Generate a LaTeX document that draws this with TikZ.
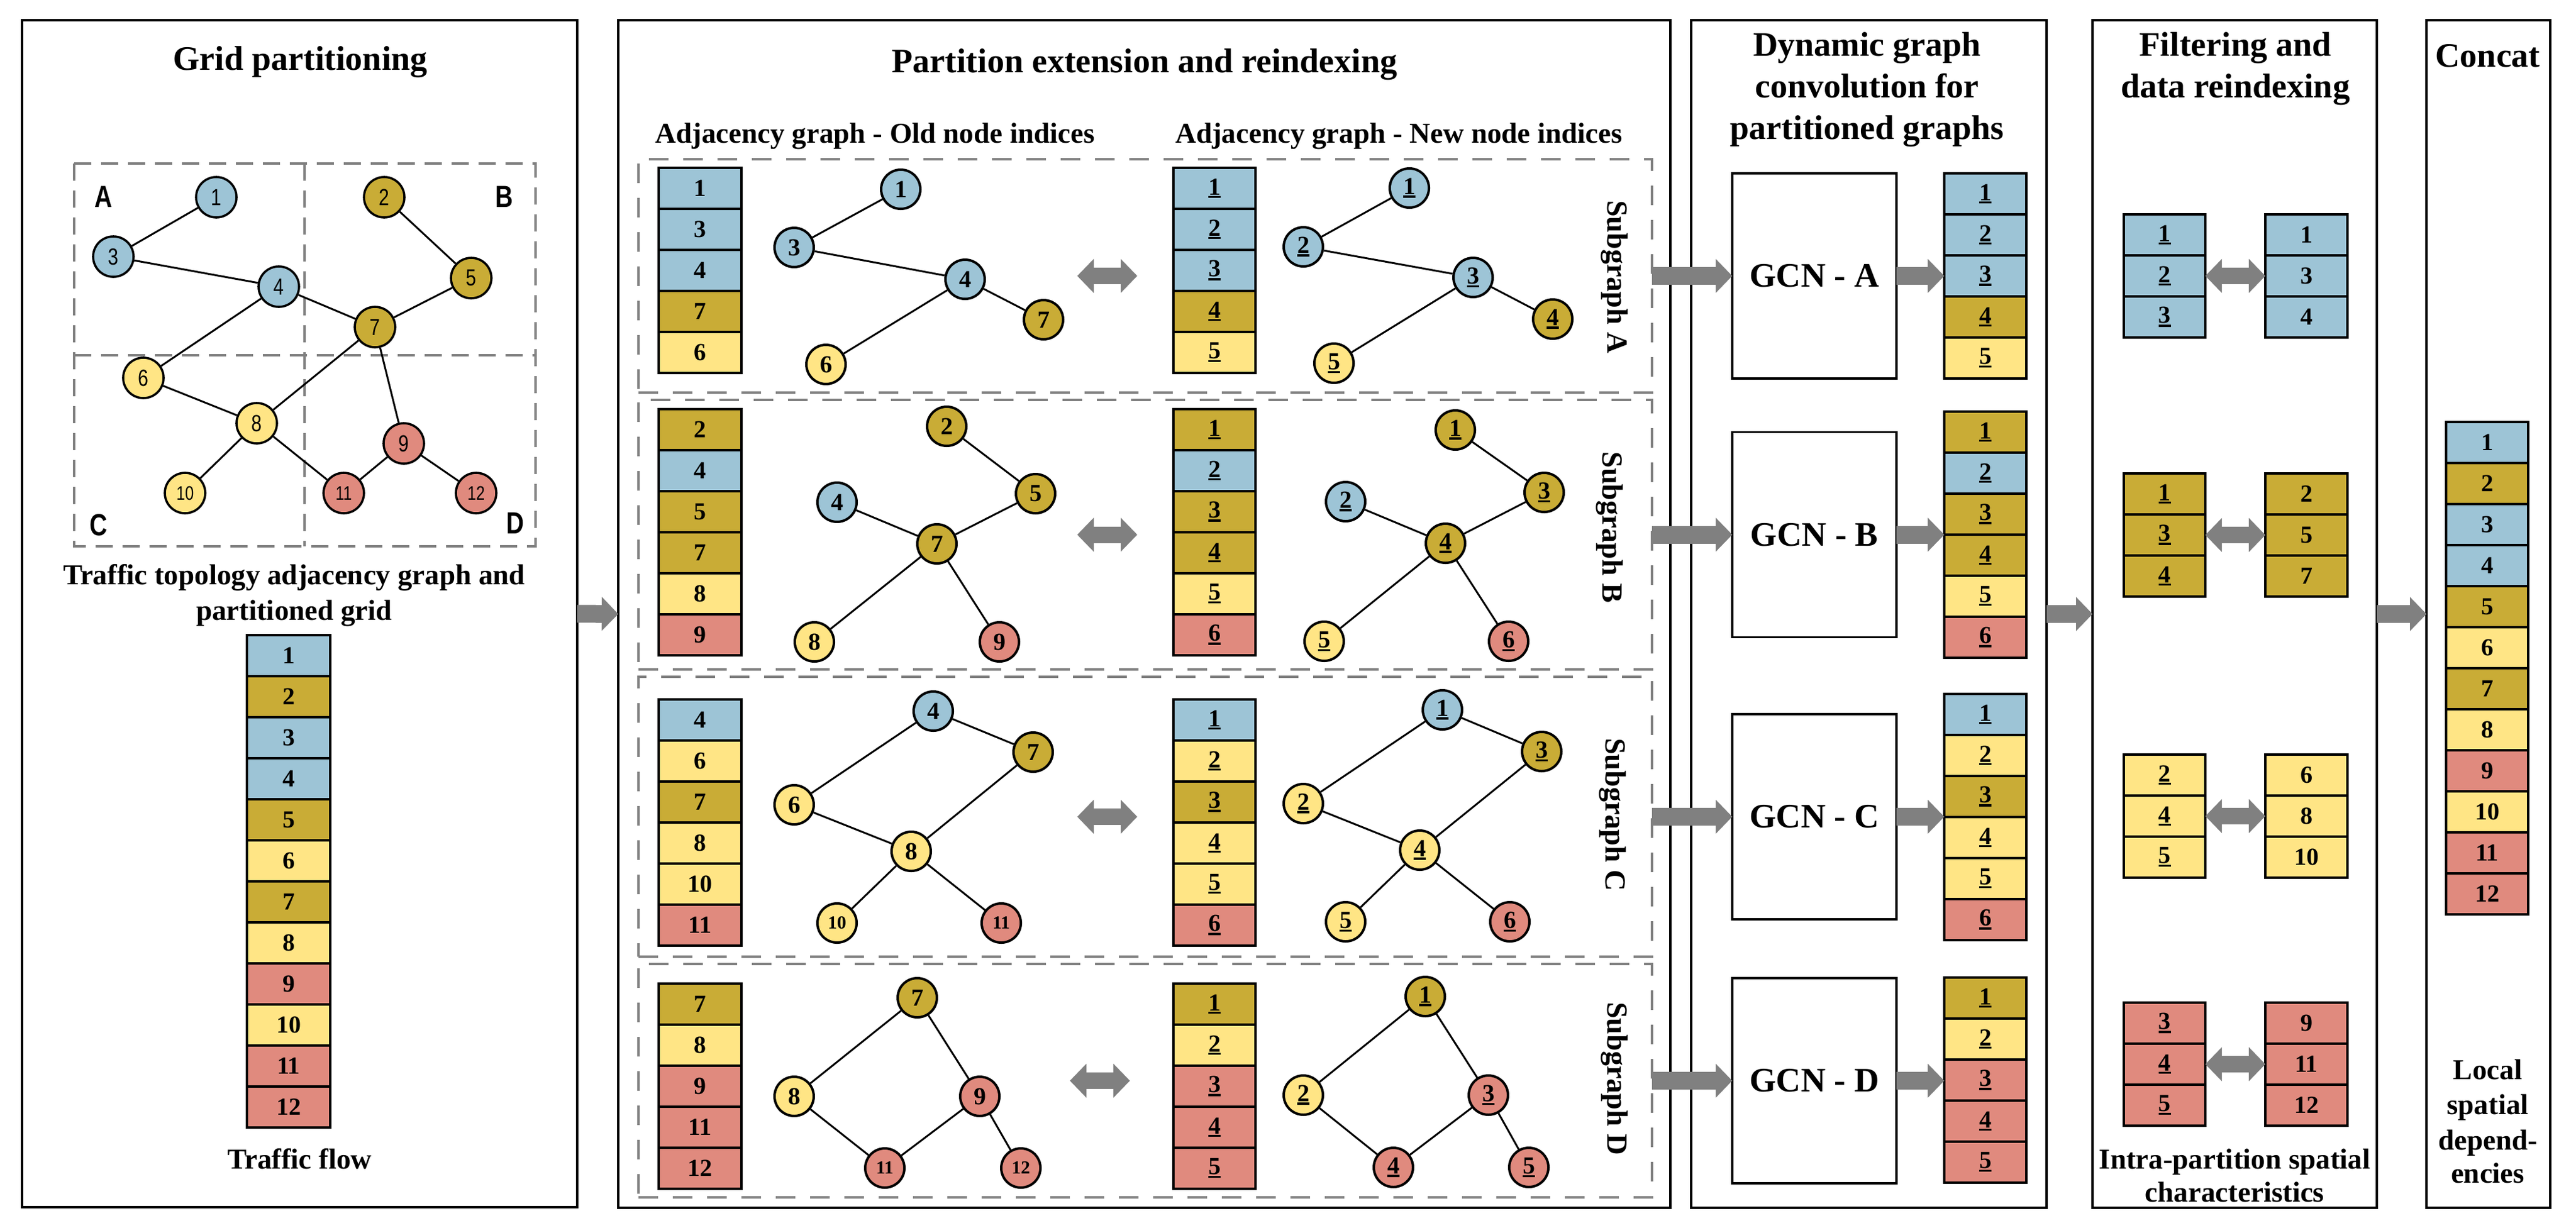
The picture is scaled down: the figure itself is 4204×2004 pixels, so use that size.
\documentclass[tikz,border=0pt]{standalone}
\usepackage{fontspec}
\setmainfont{Liberation Serif}
\newfontfamily\narrowsans[FakeStretch=0.8]{Liberation Sans}
\usetikzlibrary{arrows.meta}
\definecolor{cb}{RGB}{157,196,214}
\definecolor{co}{RGB}{201,172,54}
\definecolor{cy}{RGB}{255,229,133}
\definecolor{cr}{RGB}{224,138,126}
\definecolor{ag}{RGB}{128,128,128}
\newcommand{\ulnum}[1]{\vtop{\hbox{#1}\kern0.45pt\hrule height 0.85pt}}
\tikzset{
  panel/.style={draw, line width=1pt, inner sep=0pt, outer sep=0pt},
  cellbox/.style={draw, line width=1pt, inner sep=0pt, outer sep=0pt, minimum height=16.75pt, font=\bfseries\fontsize{10}{12}\selectfont},
  gnode/.style={circle, draw, line width=0.9pt, minimum size=16.5pt, inner sep=0pt, font=\narrowsans\fontsize{9.5}{10}\selectfont},
  gsmall/.style={font=\narrowsans\fontsize{8}{9}\selectfont},
  glabel/.style={inner sep=0pt, font=\narrowsans\bfseries\fontsize{12.5}{13}\selectfont},
  snode/.style={circle, draw, line width=1pt, minimum size=16pt, inner sep=0pt, font=\bfseries\fontsize{10}{12}\selectfont},
  ssmall/.style={font=\bfseries\fontsize{7.5}{9}\selectfont},
  link/.style={line width=0.75pt},
  fatarrow/.style={draw=ag, line width=7.25pt, -{Triangle[length=6.75pt,width=13.5pt]}},
  dblarrow/.style={draw=ag, line width=6.75pt, {Triangle[length=6.75pt,width=13.5pt]}-{Triangle[length=6.75pt,width=13.5pt]}},
  gridline/.style={draw=ag, line width=1pt, dash pattern=on 7pt off 4pt},
  subbox/.style={draw=ag, line width=0.9pt, dash pattern=on 8pt off 6pt, inner sep=0pt, outer sep=0pt},
  gcnbox/.style={draw, line width=0.9pt, inner sep=0pt, outer sep=0pt, minimum width=67pt, minimum height=83.75pt, font=\bfseries\fontsize{14}{16}\selectfont},
  ttl/.style={font=\bfseries\fontsize{14}{17}\selectfont},
  sub/.style={font=\bfseries\fontsize{11.75}{14}\selectfont},
  sgl/.style={font=\bfseries\fontsize{12}{14}\selectfont}
}
% #1 name, #2 x centre, #3 y top, #4 width, #5 list colour/text
\newcommand{\cellcol}[5]{%
  \foreach \cl/\tx [count=\i] in {#5} {
    \node[cellbox, minimum width=#4, fill=\cl] (#1-\i) at ({#2},{#3+(\i-0.5)*67}) {\tx};
  }}
\begin{document}
\begin{tikzpicture}[x=0.25pt,y=-0.25pt]
\fill[white] (0,0) rectangle (4204,2004);
\useasboundingbox (0,0) rectangle (4204,2004);

% ---------------- panels
\node[panel, minimum width=226.5pt, minimum height=484.5pt] (p1) at (489,1002) {};
\node[panel, minimum width=429.25pt, minimum height=484.75pt] (p2) at (1867.5,1002.5) {};
\node[panel, minimum width=145pt, minimum height=484.75pt] (p3) at (3050,1002.5) {};
\node[panel, minimum width=116pt, minimum height=484.75pt] (p4) at (3647,1002.5) {};
\node[panel, minimum width=50.5pt, minimum height=484.75pt] (p5) at (4061,1002.5) {};

% ---------------- titles
\node[ttl, anchor=base] (t1) at (490,114) {Grid partitioning};
\node[ttl, anchor=base] (t2) at (1868,118) {Partition extension and reindexing};
\node[sub, anchor=base] (t2a) at (1428,233) {Adjacency graph - Old node indices};
\node[sub, anchor=base] (t2b) at (2283,233) {Adjacency graph - New node indices};
\node[ttl, anchor=base] (t3a) at (3047,91) {Dynamic graph};
\node[ttl, anchor=base] (t3b) at (3047,159) {convolution for};
\node[ttl, anchor=base] (t3c) at (3047,227) {partitioned graphs};
\node[ttl, anchor=base] (t4a) at (3648,91) {Filtering and};
\node[ttl, anchor=base] (t4b) at (3648,159) {data reindexing};
\node[ttl, anchor=base] (t5) at (4060,109) {Concat};

% ---------------- grid partitioning
\draw[gridline] (121,267) rectangle (874,892);
\draw[gridline] (497,267) -- (497,892);
\draw[gridline] (121,580) -- (874,580);
\node[glabel] (lA) at (169,321) {A};
\node[glabel] (lB) at (823,321) {B};
\node[glabel] (lC) at (161,857) {C};
\node[glabel] (lD) at (841,854) {D};

\node[gnode, fill=cb] (g1) at (353,322) {1};
\node[gnode, fill=co] (g2) at (627,322) {2};
\node[gnode, fill=cb] (g3) at (185,419) {3};
\node[gnode, fill=cb] (g4) at (455,468) {4};
\node[gnode, fill=co] (g5) at (769,454) {5};
\node[gnode, fill=cy] (g6) at (234,617) {6};
\node[gnode, fill=co] (g7) at (612,534) {7};
\node[gnode, fill=cy] (g8) at (419,691) {8};
\node[gnode, fill=cr] (g9) at (659,724) {9};
\node[gnode, gsmall, fill=cy] (g10) at (302,805) {10};
\node[gnode, gsmall, fill=cr] (g11) at (561,805) {11};
\node[gnode, gsmall, fill=cr] (g12) at (777,805) {12};
\draw[link] (g1)--(g3) (g3)--(g4) (g4)--(g7) (g4)--(g6) (g2)--(g5) (g5)--(g7)
  (g7)--(g8) (g7)--(g9) (g6)--(g8) (g8)--(g10) (g8)--(g11) (g9)--(g11) (g9)--(g12);

\node[sub, anchor=base] (c1a) at (480,954) {Traffic topology adjacency graph and};
\node[sub, anchor=base] (c1b) at (480,1012) {partitioned grid};
\cellcol{tf}{471}{1037}{34pt}{cb/1,co/2,cb/3,cb/4,co/5,cy/6,co/7,cy/8,cr/9,cy/10,cr/11,cr/12}
\node[sub, anchor=base] (c1c) at (489,1908) {Traffic flow};

\draw[fatarrow] (p1.east) -- (p2.west);

% ---------------- partition extension
\node[subbox, minimum width=413.5pt, minimum height=95.25pt] (sgA) at (1869,450.5) {};
\node[subbox, minimum width=413.5pt, minimum height=110pt] (sgB) at (1869,873) {};
\node[subbox, minimum width=413.5pt, minimum height=114.25pt] (sgC) at (1869,1333.5) {};
\node[subbox, minimum width=413.5pt, minimum height=95.25pt] (sgD) at (1869,1764.5) {};

\cellcol{aO}{1142.5}{274}{33.75pt}{cb/1,cb/3,cb/4,co/7,cy/6}
\cellcol{aN}{1982}{274}{33.5pt}{cb/\ulnum{1},cb/\ulnum{2},cb/\ulnum{3},co/\ulnum{4},cy/\ulnum{5}}
\cellcol{bO}{1142.5}{668}{33.75pt}{co/2,cb/4,co/5,co/7,cy/8,cr/9}
\cellcol{bN}{1982}{668}{33.5pt}{co/\ulnum{1},cb/\ulnum{2},co/\ulnum{3},co/\ulnum{4},cy/\ulnum{5},cr/\ulnum{6}}
\cellcol{cO}{1142.5}{1142}{33.75pt}{cb/4,cy/6,co/7,cy/8,cy/10,cr/11}
\cellcol{cN}{1982}{1142}{33.5pt}{cb/\ulnum{1},cy/\ulnum{2},co/\ulnum{3},cy/\ulnum{4},cy/\ulnum{5},cr/\ulnum{6}}
\cellcol{dO}{1142.5}{1606}{33.75pt}{co/7,cy/8,cr/9,cr/11,cr/12}
\cellcol{dN}{1982}{1606}{33.5pt}{co/\ulnum{1},cy/\ulnum{2},cr/\ulnum{3},cr/\ulnum{4},cr/\ulnum{5}}

% subgraph A
\node[snode, fill=cb] (ao1) at (1470,309) {1};
\node[snode, fill=cb] (ao3) at (1296,404) {3};
\node[snode, fill=cb] (ao4) at (1575,456) {4};
\node[snode, fill=co] (ao7) at (1703,522) {7};
\node[snode, fill=cy] (ao6) at (1348,595) {6};
\draw[link] (ao1)--(ao3) (ao3)--(ao4) (ao4)--(ao7) (ao4)--(ao6);
\node[snode, fill=cb] (an1) at (2300,307) {\ulnum{1}};
\node[snode, fill=cb] (an2) at (2127,403) {\ulnum{2}};
\node[snode, fill=cb] (an3) at (2404,453) {\ulnum{3}};
\node[snode, fill=co] (an4) at (2534,521) {\ulnum{4}};
\node[snode, fill=cy] (an5) at (2177,593) {\ulnum{5}};
\draw[link] (an1)--(an2) (an2)--(an3) (an3)--(an4) (an3)--(an5);

% subgraph B
\node[snode, fill=co] (bo2) at (1545,696) {2};
\node[snode, fill=cb] (bo4) at (1366,820) {4};
\node[snode, fill=co] (bo5) at (1690,806) {5};
\node[snode, fill=co] (bo7) at (1529,888) {7};
\node[snode, fill=cy] (bo8) at (1329,1048) {8};
\node[snode, fill=cr] (bo9) at (1631,1048) {9};
\draw[link] (bo2)--(bo5) (bo4)--(bo7) (bo5)--(bo7) (bo7)--(bo8) (bo7)--(bo9);
\node[snode, fill=co] (bn1) at (2375,702) {\ulnum{1}};
\node[snode, fill=cb] (bn2) at (2196,819) {\ulnum{2}};
\node[snode, fill=co] (bn3) at (2520,804) {\ulnum{3}};
\node[snode, fill=co] (bn4) at (2359,887) {\ulnum{4}};
\node[snode, fill=cy] (bn5) at (2161,1047) {\ulnum{5}};
\node[snode, fill=cr] (bn6) at (2462,1047) {\ulnum{6}};
\draw[link] (bn1)--(bn3) (bn2)--(bn4) (bn3)--(bn4) (bn4)--(bn5) (bn4)--(bn6);

% subgraph C
\node[snode, fill=cb] (co4) at (1523,1161) {4};
\node[snode, fill=co] (co7) at (1686,1228) {7};
\node[snode, fill=cy] (co6) at (1296,1314) {6};
\node[snode, fill=cy] (co8) at (1487,1390) {8};
\node[snode, ssmall, fill=cy] (co10) at (1366,1507) {10};
\node[snode, ssmall, fill=cr] (co11) at (1634,1507) {11};
\draw[link] (co4)--(co7) (co4)--(co6) (co6)--(co8) (co7)--(co8) (co8)--(co10) (co8)--(co11);
\node[snode, fill=cb] (cn1) at (2354,1159) {\ulnum{1}};
\node[snode, fill=co] (cn3) at (2516,1227) {\ulnum{3}};
\node[snode, fill=cy] (cn2) at (2127,1312) {\ulnum{2}};
\node[snode, fill=cy] (cn4) at (2317,1388) {\ulnum{4}};
\node[snode, fill=cy] (cn5) at (2196,1505) {\ulnum{5}};
\node[snode, fill=cr] (cn6) at (2464,1505) {\ulnum{6}};
\draw[link] (cn1)--(cn3) (cn1)--(cn2) (cn2)--(cn4) (cn3)--(cn4) (cn4)--(cn5) (cn4)--(cn6);

% subgraph D
\node[snode, fill=co] (do7) at (1497,1629) {7};
\node[snode, fill=cy] (do8) at (1296,1790) {8};
\node[snode, fill=cr] (do9) at (1599,1790) {9};
\node[snode, ssmall, fill=cr] (do11) at (1444,1907) {11};
\node[snode, ssmall, fill=cr] (do12) at (1666,1907) {12};
\draw[link] (do7)--(do8) (do7)--(do9) (do8)--(do11) (do9)--(do11) (do9)--(do12);
\node[snode, fill=co] (dn1) at (2326,1627) {\ulnum{1}};
\node[snode, fill=cy] (dn2) at (2127,1788) {\ulnum{2}};
\node[snode, fill=cr] (dn3) at (2429,1788) {\ulnum{3}};
\node[snode, fill=cr] (dn4) at (2274,1906) {\ulnum{4}};
\node[snode, fill=cr] (dn5) at (2495,1906) {\ulnum{5}};
\draw[link] (dn1)--(dn2) (dn1)--(dn3) (dn2)--(dn4) (dn3)--(dn4) (dn3)--(dn5);

% double arrows old <-> new
\coordinate (xAl) at (1758,450.5); \coordinate (xAr) at (1856,450.5);
\coordinate (xBl) at (1758,873);   \coordinate (xBr) at (1856,873);
\coordinate (xCl) at (1758,1333.5); \coordinate (xCr) at (1856,1333.5);
\coordinate (xDl) at (1746,1764.5); \coordinate (xDr) at (1844,1764.5);
\draw[dblarrow] (xAl) -- (xAr);
\draw[dblarrow] (xBl) -- (xBr);
\draw[dblarrow] (xCl) -- (xCr);
\draw[dblarrow] (xDl) -- (xDr);

\node[sgl, rotate=-90] (lsA) at (2635,452) {Subgraph A};
\node[sgl, rotate=-90] (lsB) at (2627,861) {Subgraph B};
\node[sgl, rotate=-90] (lsC) at (2632,1330) {Subgraph C};
\node[sgl, rotate=-90] (lsD) at (2635,1761) {Subgraph D};

% ---------------- GCN panel
\node[gcnbox] (gA) at (2961,450.5) {GCN - A};
\node[gcnbox] (gB) at (2961,873) {GCN - B};
\node[gcnbox] (gC) at (2961,1333.5) {GCN - C};
\node[gcnbox] (gD) at (2961,1764.5) {GCN - D};
\cellcol{oA}{3240}{283}{33.5pt}{cb/\ulnum{1},cb/\ulnum{2},cb/\ulnum{3},co/\ulnum{4},cy/\ulnum{5}}
\cellcol{oB}{3240}{672}{33.5pt}{co/\ulnum{1},cb/\ulnum{2},co/\ulnum{3},co/\ulnum{4},cy/\ulnum{5},cr/\ulnum{6}}
\cellcol{oC}{3240}{1133}{33.5pt}{cb/\ulnum{1},cy/\ulnum{2},co/\ulnum{3},cy/\ulnum{4},cy/\ulnum{5},cr/\ulnum{6}}
\cellcol{oD}{3240}{1596}{33.5pt}{co/\ulnum{1},cy/\ulnum{2},cr/\ulnum{3},cr/\ulnum{4},cr/\ulnum{5}}
\draw[fatarrow] (sgA.east) -- (gA.west);
\draw[fatarrow] (sgB.east) -- (gB.west);
\draw[fatarrow] (sgC.east) -- (gC.west);
\draw[fatarrow] (sgD.east) -- (gD.west);
\draw[fatarrow] (gA.east) -- (gA.east -| oA-1.west);
\draw[fatarrow] (gB.east) -- (gB.east -| oB-1.west);
\draw[fatarrow] (gC.east) -- (gC.east -| oC-1.west);
\draw[fatarrow] (gD.east) -- (gD.east -| oD-1.west);
\draw[fatarrow] (p3.east) -- (p4.west);

% ---------------- filtering panel
\cellcol{fA}{3532.5}{350}{33.25pt}{cb/\ulnum{1},cb/\ulnum{2},cb/\ulnum{3}}
\cellcol{rA}{3764}{350}{33.5pt}{cb/1,cb/3,cb/4}
\cellcol{fB}{3532.5}{773}{33.25pt}{co/\ulnum{1},co/\ulnum{3},co/\ulnum{4}}
\cellcol{rB}{3764}{773}{33.5pt}{co/2,co/5,co/7}
\cellcol{fC}{3532.5}{1232}{33.25pt}{cy/\ulnum{2},cy/\ulnum{4},cy/\ulnum{5}}
\cellcol{rC}{3764}{1232}{33.5pt}{cy/6,cy/8,cy/10}
\cellcol{fD}{3532.5}{1637}{33.25pt}{cr/\ulnum{3},cr/\ulnum{4},cr/\ulnum{5}}
\cellcol{rD}{3764}{1637}{33.5pt}{cr/9,cr/11,cr/12}
\draw[dblarrow] (fA-2.east) -- (rA-2.west);
\draw[dblarrow] (fB-2.east) -- (rB-2.west);
\draw[dblarrow] (fC-2.east) -- (rC-2.west);
\draw[dblarrow] (fD-2.east) -- (rD-2.west);
\node[sub, anchor=base] (c4a) at (3647,1908) {Intra-partition spatial};
\node[sub, anchor=base] (c4b) at (3647,1962) {characteristics};
\draw[fatarrow] (p4.east) -- (p5.west);

% ---------------- concat panel
\cellcol{cc}{4059}{689}{33.5pt}{cb/1,co/2,cb/3,cb/4,co/5,cy/6,co/7,cy/8,cr/9,cy/10,cr/11,cr/12}
\node[sub, anchor=base] (c5a) at (4060,1762) {Local};
\node[sub, anchor=base] (c5b) at (4060,1819) {spatial};
\node[sub, anchor=base] (c5c) at (4060,1877) {depend-};
\node[sub, anchor=base] (c5d) at (4060,1931) {encies};
\end{tikzpicture}
\end{document}
